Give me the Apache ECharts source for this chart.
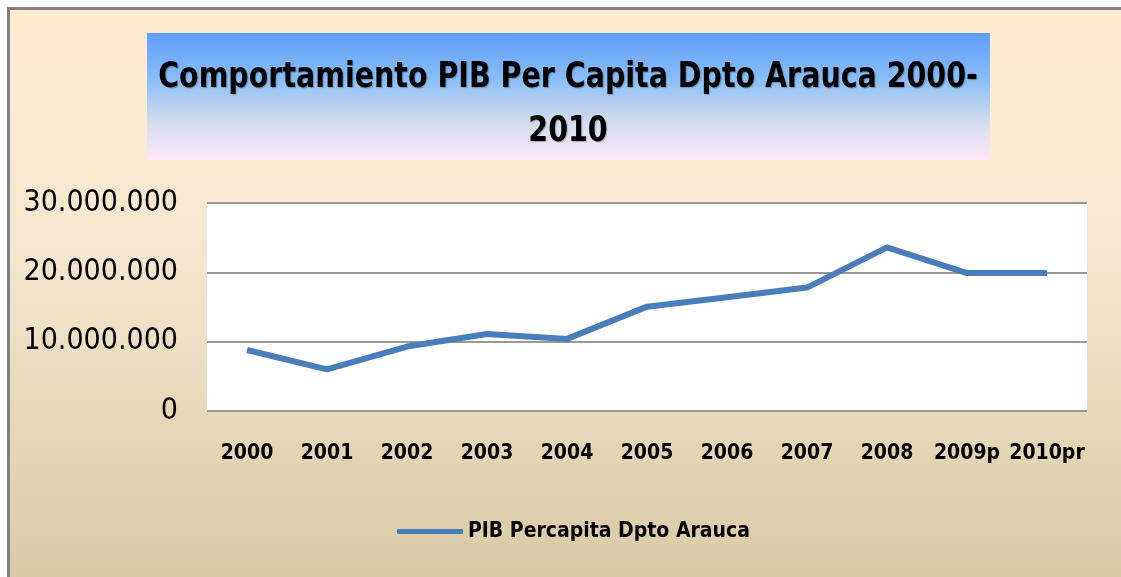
<!DOCTYPE html>
<html>
<head>
<meta charset="utf-8">
<script src="https://cdn.jsdelivr.net/npm/echarts@6/dist/echarts.min.js"></script>
<style>
  html, body { margin: 0; padding: 0; background: #fff; overflow: hidden; }
  #wrap {
    position: absolute; left: 7px; top: 7px; width: 1120px; height: 576px;
    border-left: 3px solid #808080; border-top: 3px solid #808080;
    background: linear-gradient(to bottom, #FFEDD2 0%, #F5E8CF 40%, #D8CAA4 100%);
  }
  #main { width: 1111px; height: 567px; }
</style>
</head>
<body>
<div id="wrap"><div id="main"></div></div>
<script>
// datos
const years = ['2000', '2001', '2002', '2003', '2004', '2005', '2006', '2007', '2008', '2009p', '2010pr']
const pibPercapita = [8800000, 6000000, 9300000, 11100000, 10400000, 15050000, 16400000, 17800000, 23600000, 19900000, 19900000]
const serieName = 'PIB Percapita Dpto Arauca'
const titleLines = ['Comportamiento PIB Per Capita Dpto Arauca 2000-', '2010']

const narrow = '"DejaVu Sans Condensed", sans-serif'

function fmtMiles(v) {
  return String(v).replace(/\B(?=(\d{3})+(?!\d))/g, '.')
}

const chart = echarts.init(document.getElementById('main'))
const option = {
  animation: false,
  backgroundColor: 'transparent',
  graphic: [
    {
      type: 'rect',
      shape: { x: 137, y: 23, width: 843, height: 127 },
      style: {
        fill: new echarts.graphic.LinearGradient(0, 0, 0, 1, [
          { offset: 0, color: '#5F9EFE' },
          { offset: 0.35, color: '#87BDF6' },
          { offset: 0.7, color: '#D4DCEE' },
          { offset: 1, color: '#F9E8F6' }
        ])
      },
      z: 0
    },
    {
      type: 'text',
      x: 558,
      y: 41,
      scaleX: 0.88,
      style: {
        text: titleLines.join('\n'),
        fill: '#000',
        font: 'bold 36px ' + narrow,
        lineHeight: 54,
        align: 'center',
        textShadowColor: 'rgba(0,0,0,0.25)',
        textShadowBlur: 1,
        textShadowOffsetX: 1,
        textShadowOffsetY: 1
      },
      z: 2
    }
  ],
  grid: { left: 197, top: 193, width: 880, height: 208, show: true, backgroundColor: '#fff', borderWidth: 0 },
  legend: {
    left: 382, top: 506,
    itemWidth: 66, itemHeight: 5, itemGap: 6,
    icon: 'roundRect',
    data: [serieName],
    textStyle: { fontFamily: narrow, fontSize: 21, fontWeight: 'bold', color: '#000' }
  },
  xAxis: {
    type: 'category',
    data: years,
    boundaryGap: true,
    axisLine: { show: false },
    axisTick: { show: false },
    axisLabel: { interval: 0, margin: 32, fontFamily: narrow, fontSize: 21, fontWeight: 'bold', color: '#000' }
  },
  yAxis: {
    type: 'value',
    min: 0, max: 30000000, interval: 10000000,
    axisLine: { show: false },
    axisTick: { show: false },
    splitLine: { lineStyle: { color: '#989898', width: 2 } },
    axisLabel: { margin: 29, fontFamily: narrow, fontSize: 30, color: '#000', formatter: fmtMiles }
  },
  series: [{
    name: serieName,
    type: 'line',
    data: pibPercapita,
    symbol: 'none',
    lineStyle: { color: '#4A7EBB', width: 6 },
    itemStyle: { color: '#4A7EBB' }
  }]
}
chart.setOption(option)
</script>
</body>
</html>
